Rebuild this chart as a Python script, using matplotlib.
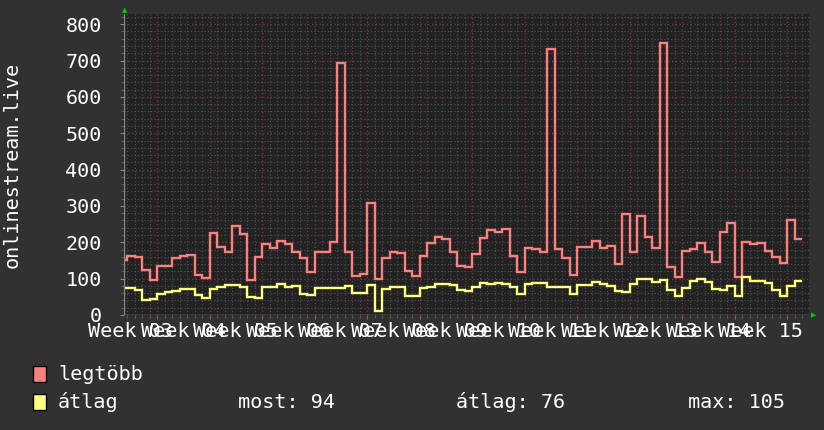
import numpy as np
import matplotlib
matplotlib.use("Agg")
import matplotlib.pyplot as plt
from matplotlib.patches import Rectangle

# daily values, first day is partly cut off on the left
legtobb = [151, 163, 160, 124, 96, 135, 135, 156, 162, 166, 111, 103, 225, 188, 174,
           246, 222, 96, 160, 194, 183, 204, 194, 174, 156, 119, 174, 174, 202, 693,
           174, 107, 113, 309, 99, 156, 174, 170, 120, 107, 163, 197, 215, 209, 174,
           135, 133, 167, 213, 234, 227, 237, 163, 119, 185, 182, 174, 731, 182, 158,
           110, 188, 188, 204, 185, 191, 139, 278, 174, 272, 215, 183, 748, 133, 105,
           176, 182, 199, 174, 147, 227, 252, 105, 202, 195, 197, 176, 160, 144, 261,
           209]
atlag = [75, 73, 69, 41, 44, 58, 63, 67, 72, 71, 54, 47, 72, 78, 82,
         82, 76, 49, 46, 76, 76, 85, 76, 79, 58, 56, 75, 75, 75, 75,
         80, 60, 60, 83, 11, 71, 76, 76, 53, 51, 73, 78, 85, 85, 83,
         69, 67, 78, 87, 85, 88, 84, 78, 58, 85, 89, 89, 78, 78, 78,
         58, 83, 83, 92, 86, 81, 66, 63, 85, 98, 98, 92, 96, 69, 53,
         75, 94, 98, 92, 71, 69, 81, 53, 105, 94, 94, 87, 70, 51, 81,
         94]
first_day = -5
weeks = ["Week %02d" % w for w in range(3, 16)]
week_starts = [0, 7, 14, 21, 28, 35, 42, 49, 56, 63, 70, 77, 84]
stats = ["most: 94", "átlag: 76", "max: 105"]

BACK = "#313131"
CANVAS = "#222222"
FONT = "DejaVu Sans Mono"
fs = 14.5

fig = plt.figure(figsize=(8.24, 4.30), dpi=100, facecolor=BACK)
ax = fig.add_axes([124/824, 115/430, 685/824, 301/430], facecolor=CANVAS)

edges = np.arange(first_day, first_day + len(legtobb) + 1)
ax.stairs(legtobb, edges, color="#ff7f7f", lw=1.7, baseline=None)
ax.stairs(atlag, edges, color="#ffff80", lw=1.7, baseline=None)

ax.set_xlim(-4.4, 86.93)
ax.set_ylim(0, 828)

# grid: grey minor, reddish major
ax.set_xticks(week_starts)
ax.set_xticks(np.arange(-4, 87), minor=True)
ax.set_yticks(np.arange(0, 801, 100))
ax.set_yticks(np.arange(0, 821, 20), minor=True)
ax.grid(which="minor", color="#555555", linestyle=(0, (1, 2)), lw=0.8)
ax.grid(which="major", color="#7a3c3c", linestyle=(0, (1, 2)), lw=0.9)
ax.set_axisbelow(True)

ax.set_xticklabels([])
ax.set_yticklabels([str(v) for v in range(0, 801, 100)], family=FONT, fontsize=fs, color="white")
ax.tick_params(axis="y", which="major", length=3, pad=13, color="#888888")
ax.tick_params(axis="x", which="major", length=3, color="#aa5555")
ax.tick_params(which="minor", length=2, color="#666666")
for s in ax.spines.values():
    s.set_visible(False)
ax.axhline(0, color="#888888", lw=1)
ax.axvline(-4.4, color="#888888", lw=1)

# week labels centered mid-week
for lab, d in zip(weeks, week_starts):
    ax.text(d - 3.5, -60, lab, family=FONT, fontsize=fs, color="white",
            ha="center", va="baseline", clip_on=False)

# green arrows
fig.text(125/824, 1 - 10/430, "▲", color="#00cc00", fontsize=5, ha="center", va="center")
fig.text(814/824, 1 - 315/430, "▶", color="#00cc00", fontsize=5, ha="center", va="center")

fig.text(12/824, 1 - 165/430, "onlinestream.live", family=FONT, fontsize=fs,
         color="white", rotation=90, ha="center", va="center")

# legend
for row, (name, col) in enumerate([("legtöbb", "#ff7f7f"), ("átlag", "#ffff80")]):
    y = 1 - (374 + row * 28) / 430
    fig.patches.append(Rectangle((33/824, y - 8/430), 13/824, 16/430, transform=fig.transFigure,
                                 facecolor=col, edgecolor="black", lw=1))
    fig.text(58/824, y, name, family=FONT, fontsize=fs, color="white", va="center")
for txt, x in zip(stats, [238, 456, 688]):
    fig.text(x/824, 1 - 402/430, txt, family=FONT, fontsize=fs, color="white", va="center")

fig.savefig("out.png", dpi=100, facecolor=BACK)
